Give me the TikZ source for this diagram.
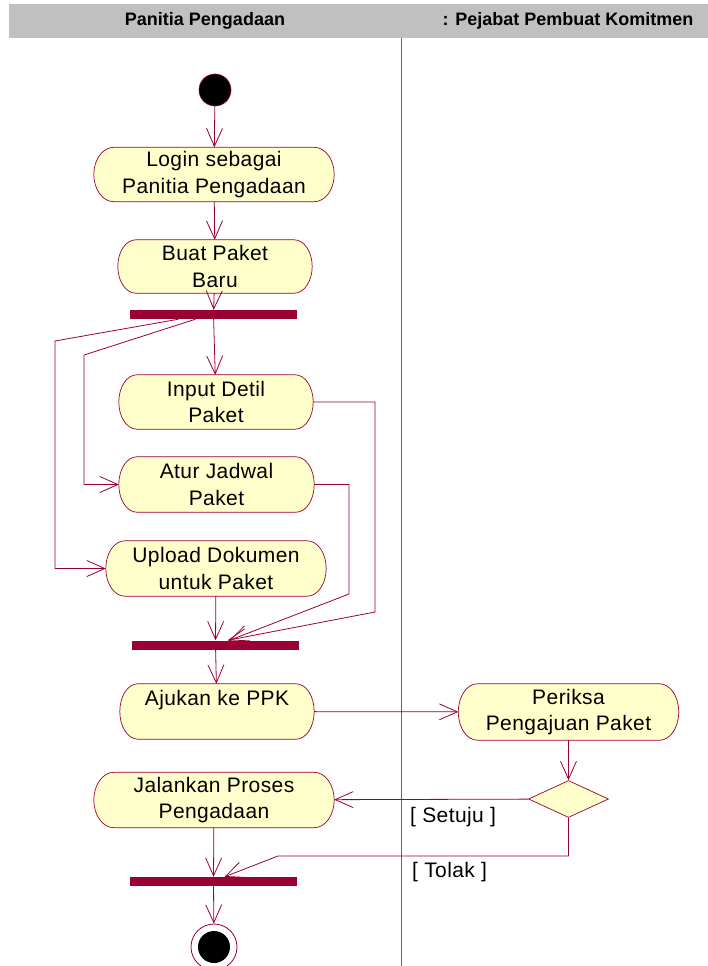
\documentclass[tikz,border=0pt]{standalone}
\usepackage{fontspec}
\setmainfont{Liberation Sans}
\newfontfamily\actfont[LetterSpace=2]{Liberation Sans}
\usetikzlibrary{arrows.meta,calc,shapes.geometric}
\definecolor{rose}{HTML}{990033}
\definecolor{actfill}{HTML}{FFFFCC}
\definecolor{hdr}{HTML}{C0C0C0}
\pgfdeclarelayer{bg}
\pgfsetlayers{bg,main}
\newcommand\actoutline[2]{%
  \begin{pgfonlayer}{bg}
  \path[draw=rose, fill=actfill, line width=0.7pt]
    ($(#1.north west)+(#2,0)$) -- ($(#1.north east)+(-#2,0)$)
    .. controls ($(#1.north east)+(-0.4477*#2,0)$) and ($(#1.east)!0.5523!(#1.north east)$) .. (#1.east)
    .. controls ($(#1.east)!0.5523!(#1.south east)$) and ($(#1.south east)+(-0.4477*#2,0)$) .. ($(#1.south east)+(-#2,0)$)
    -- ($(#1.south west)+(#2,0)$)
    .. controls ($(#1.south west)+(0.4477*#2,0)$) and ($(#1.west)!0.5523!(#1.south west)$) .. (#1.west)
    .. controls ($(#1.west)!0.5523!(#1.north west)$) and ($(#1.north west)+(0.4477*#2,0)$) .. ($(#1.north west)+(#2,0)$) -- cycle;
  \end{pgfonlayer}}
\begin{document}
\begin{tikzpicture}[x=1pt,y=-1pt,
  conn/.style={draw=rose, line width=0.8pt, -{Straight Barb[length=18pt,width=16pt]}},
  act/.style={rectangle, inner sep=0pt, align=center, font=\actfont\fontsize{21}{26.5}\selectfont, text=black},
  bar/.style={rectangle, fill=rose, inner sep=0pt, minimum width=167pt, minimum height=9pt},
  guard/.style={font=\actfont\fontsize{21}{26.5}\selectfont, inner sep=0pt, anchor=west, text=black},
  lanehead/.style={font=\fontsize{18}{21}\selectfont\bfseries, inner sep=0pt, text=black}
]
\useasboundingbox (0,0) rectangle (708,966);
% swimlane header
\fill[hdr] (9,4) rectangle (708,38);
\node[lanehead] (lane1) at (205,21) {Panitia Pengadaan};
\node[lanehead] (lane2) at (568,21) {: Pejabat Pembuat Komitmen};
\draw[rose!75, line width=0.8pt] (401,38) -- (401,966);
% start / end
\node[circle, fill=black, draw=rose, line width=0.6pt, minimum size=32pt, inner sep=0pt] (start) at (215,90) {};
\node[circle, fill=white, draw=rose, line width=0.8pt, minimum size=46pt, inner sep=0pt] (fin) at (214,947) {};
\node[circle, fill=black, minimum size=32pt, inner sep=0pt] (finin) at (fin.center) {};
% activities
\node[act, minimum width=240pt, minimum height=54pt] (login) at (214,174.5) {Login sebagai\\Panitia Pengadaan};
\node[act, minimum width=194pt, minimum height=53pt] (buat) at (215,266.5) {Buat Paket\\Baru};
\node[act, minimum width=194pt, minimum height=54pt] (input) at (216,402) {Input Detil\\Paket};
\node[act, minimum width=195pt, minimum height=55pt] (atur) at (216.5,484.5) {Atur Jadwal\\Paket};
\node[act, minimum width=220pt, minimum height=55pt] (upload) at (216,568.5) {Upload Dokumen\\untuk Paket};
\node[act, minimum width=194pt, minimum height=55pt] (ajukan) at (217,711.5) {Ajukan ke PPK\\\phantom{X}};
\node[act, minimum width=220pt, minimum height=56pt] (periksa) at (568.5,712) {Periksa\\Pengajuan Paket};
\node[act, minimum width=240pt, minimum height=55pt] (jalankan) at (214,800) {Jalankan Proses\\Pengadaan};
\foreach \n/\r in {login/20,buat/18,input/18,atur/18,upload/19,ajukan/18,periksa/19,jalankan/20} {\actoutline{\n}{\r}}
\node[diamond, draw=rose, fill=actfill, line width=0.7pt, minimum width=80pt, minimum height=37pt, inner sep=0pt] (dec) at (568.5,799) {};
% bars
\node[bar] (fork) at (213.5,314.5) {};
\node[bar] (join1) at (215.5,645) {};
\node[bar] (join2) at (213.5,881.5) {};
% connectors
\draw[conn] (start) -- (login);
\draw[conn] (login) -- (buat);
\draw[conn] (buat) -- (fork);
\draw[conn] (fork) -- (input);
\draw[conn] ([xshift=-35pt]fork.south) -- (55,341) |- (upload.west);
\draw[conn] ([xshift=-18pt]fork.south) -- (84,355) |- (atur.west);
\draw[conn] (input.east) -| (375,612) -- ([xshift=12pt]join1.north);
\draw[conn] (atur.east) -| (349,594) -- ([xshift=14pt]join1.north);
\draw[conn] (upload) -- (join1);
\draw[conn] (join1) -- (ajukan);
\draw[conn] (ajukan) -- (periksa);
\draw[conn] (periksa) -- (dec);
\draw[conn] (dec) -- (jalankan);
\node[guard] (setuju) at (410,817) {[ Setuju ]};
\draw[conn] (dec.south) -- (568.5,856) -- (278,856) -- ([xshift=11pt]join2.north);
\node[guard] (tolak) at (412,872) {[ Tolak ]};
\draw[conn] (jalankan) -- (join2);
\draw[conn] (join2) -- (fin);
\end{tikzpicture}
\end{document}
